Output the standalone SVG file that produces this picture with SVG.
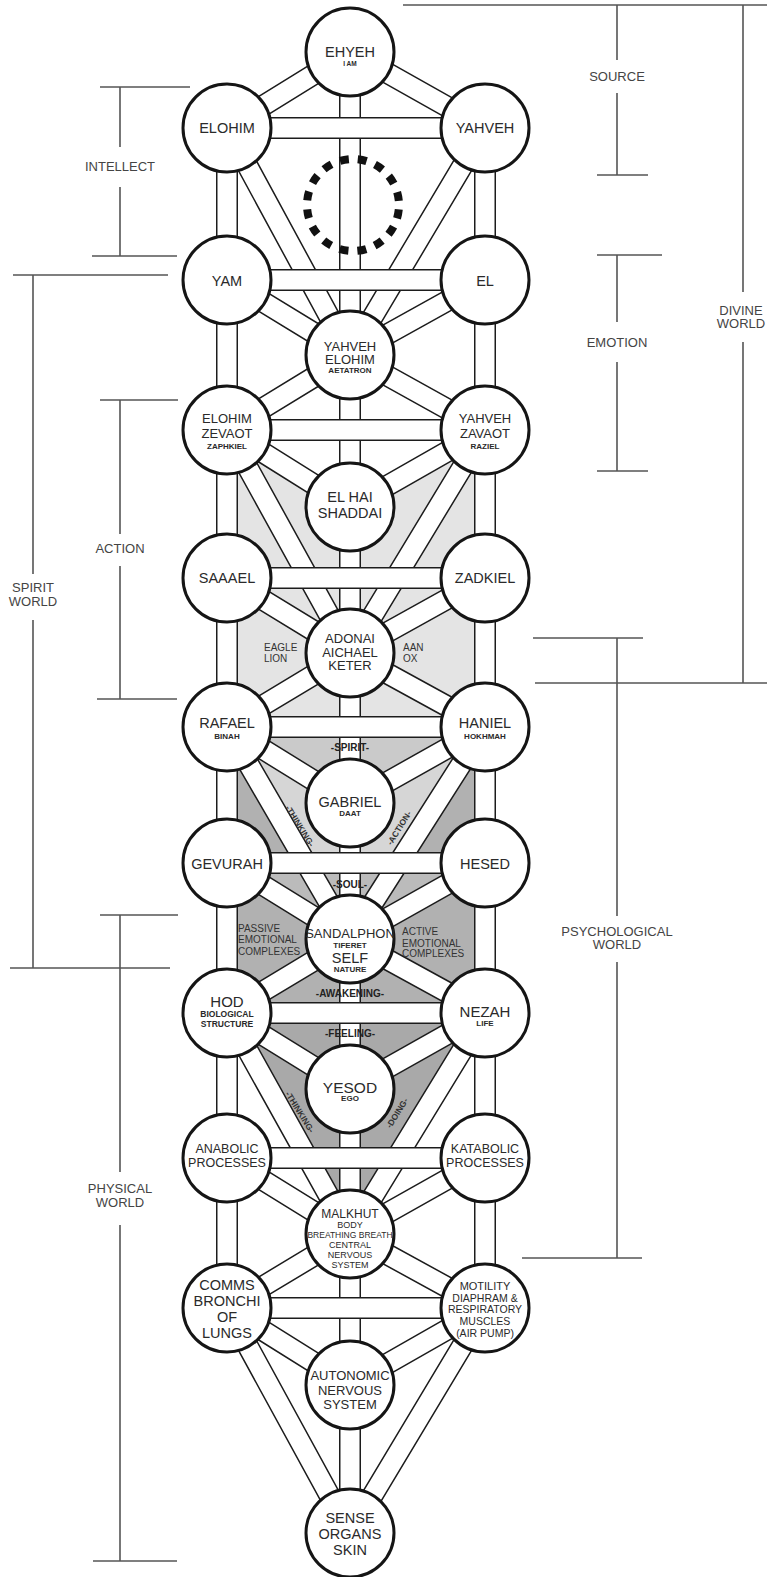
<svg xmlns="http://www.w3.org/2000/svg" width="767" height="1577" viewBox="0 0 767 1577">
<defs>
<style>
.chb{stroke:#1c1c1c;stroke-width:22;fill:none}
.chw{stroke:#fff;stroke-width:19;fill:none}
.node circle{fill:#fff;stroke:#151515;stroke-width:3}
text{font-family:"Liberation Sans",Arial,sans-serif;fill:#2a2a2a;text-anchor:middle}
.m{font-size:14.5px}
.m13{font-size:13px}
.m12{font-size:12.5px}
.s{font-size:8px;font-weight:bold}
.s9{font-size:8.5px;font-weight:bold}
.br{stroke:#555;stroke-width:1.6;fill:none}
.bl{font-size:13px;fill:#444}
.zl{font-size:10px;font-weight:bold;fill:#222}
.al{font-size:10px;text-anchor:start;fill:#333}
.rl{font-size:8.5px;font-weight:bold;fill:#333}
</style>
<path id="diag" d="M350 52L227 128M350 52L485 128M227 128L350 355M485 128L350 355M227 280L350 355M485 280L350 355M350 355L227 430M350 355L485 430M227 430L350 507M485 430L350 507M227 430L350 653M485 430L350 653M227 578L350 653M485 578L350 653M350 653L227 727M350 653L485 727M227 727L350 803M485 727L350 803M227 727L350 939M485 727L350 939M227 863L350 939M485 863L350 939M350 939L227 1013M350 939L485 1013M227 1013L350 1089M485 1013L350 1089M227 1013L350 1234M485 1013L350 1234M227 1158L350 1234M485 1158L350 1234M350 1234L227 1308M350 1234L485 1308M227 1308L350 1385M485 1308L350 1385M227 1308L350 1533M485 1308L350 1533"/>
<path id="vert" d="M350 52V1533M227 128V1308M485 128V1308"/>
<path id="bars" d="M227 128H485M227 280H485M227 430H485M227 578H485M227 727H485M227 863H485M227 1013H485M227 1158H485M227 1308H485"/>
</defs>
<rect width="767" height="1577" fill="#fff"/>
<g id="shading">
<polygon points="227,430 350,507 485,430 485,727 227,727" fill="#e4e4e4"/>
<polygon points="227,727 485,727 485,1013 227,1013" fill="#b1b1b1"/>
<polygon points="227,727 485,727 350,939" fill="#d6d6d6"/>
<polygon points="227,727 485,727 350,803" fill="#cacaca"/>
<polygon points="227,863 485,863 350,939" fill="#bbbbbb"/>
<polygon points="227,1013 485,1013 350,1234" fill="#a9a9a9"/>
</g>
<g id="connectors">
<use href="#diag" class="chb"/>
<use href="#diag" class="chw"/>
<use href="#vert" class="chb"/>
<use href="#vert" class="chw"/>
<use href="#bars" class="chb"/>
<use href="#bars" class="chw"/>
<circle cx="353" cy="205" r="46" fill="none" stroke="#111" stroke-width="8" stroke-dasharray="9 9.06" stroke-dashoffset="-4.53"/>
</g>
<g id="region-labels">
<text class="al" x="264" y="651">EAGLE</text>
<text class="al" x="264" y="662">LION</text>
<text class="al" x="403" y="651">AAN</text>
<text class="al" x="403" y="662">OX</text>
<text class="zl" x="350" y="751">-SPIRIT-</text>
<text class="rl" transform="translate(300,826) rotate(58)" y="3">-THINKING-</text>
<text class="rl" transform="translate(399,828) rotate(-58)" y="3">-ACTION-</text>
<text class="zl" x="350" y="888">-SOUL-</text>
<text class="al" x="238" y="932">PASSIVE</text>
<text class="al" x="238" y="943">EMOTIONAL</text>
<text class="al" x="238" y="955">COMPLEXES</text>
<text class="al" x="402" y="935">ACTIVE</text>
<text class="al" x="402" y="947">EMOTIONAL</text>
<text class="al" x="402" y="957">COMPLEXES</text>
<text class="zl" x="350" y="997">-AWAKENING-</text>
<text class="zl" x="350" y="1037">-FEELING-</text>
<text class="rl" transform="translate(300,1112) rotate(58)" y="3">-THINKING-</text>
<text class="rl" transform="translate(397,1113) rotate(-58)" y="3">-DOING-</text>
</g>
<g id="brackets">
<path class="br" d="M100 87H190M120 87V147M120 187V256M92 256H177"/>
<text class="bl" x="120" y="171">INTELLECT</text>
<path class="br" d="M13 275H168M33 275V574M33 620V968M10 968H170"/>
<text class="bl" x="33" y="592">SPIRIT</text>
<text class="bl" x="33" y="606">WORLD</text>
<path class="br" d="M100 400H178M120 400V534M120 566V699M97 699H177"/>
<text class="bl" x="120" y="553">ACTION</text>
<path class="br" d="M100 915H178M120 915V1172M120 1225V1561M93 1561H177"/>
<text class="bl" x="120" y="1193">PHYSICAL</text>
<text class="bl" x="120" y="1207">WORLD</text>
<path class="br" d="M403 5H767M617 5V60M617 93V175M597 175H648"/>
<text class="bl" x="617" y="81">SOURCE</text>
<path class="br" d="M597 255H662M617 255V322M617 362V471M597 471H648"/>
<text class="bl" x="617" y="347">EMOTION</text>
<path class="br" d="M743 5V292M743 342V683M535 683H767"/>
<text class="bl" x="741" y="315">DIVINE</text>
<text class="bl" x="741" y="328">WORLD</text>
<path class="br" d="M533 638H643M617 638V916M617 962V1258M522 1258H642"/>
<text class="bl" x="617" y="936">PSYCHOLOGICAL</text>
<text class="bl" x="617" y="949">WORLD</text>
</g>
<g id="n-ehyeh" class="node"><circle cx="350" cy="52" r="44"/><text class="m" x="350" y="57">EHYEH</text><text x="350" y="65.5" style="font-size:6.5px;font-weight:bold">I AM</text></g>
<g id="n-elohim" class="node"><circle cx="227" cy="128" r="44"/><text class="m" x="227" y="133">ELOHIM</text></g>
<g id="n-yahveh" class="node"><circle cx="485" cy="128" r="44"/><text class="m" x="485" y="133">YAHVEH</text></g>
<g id="n-yam" class="node"><circle cx="227" cy="280" r="44"/><text class="m" x="227" y="286">YAM</text></g>
<g id="n-el" class="node"><circle cx="485" cy="280" r="44"/><text class="m" x="485" y="286">EL</text></g>
<g id="n-yahveh-elohim" class="node"><circle cx="350" cy="355" r="44"/><text class="m13" x="350" y="351">YAHVEH</text><text class="m13" x="350" y="364">ELOHIM</text><text class="s" x="350" y="373">AETATRON</text></g>
<g id="n-elohim-zevaot" class="node"><circle cx="227" cy="430" r="44"/><text class="m13" x="227" y="423">ELOHIM</text><text class="m13" x="227" y="438">ZEVAOT</text><text class="s" x="227" y="449">ZAPHKIEL</text></g>
<g id="n-yahveh-zavaot" class="node"><circle cx="485" cy="430" r="44"/><text class="m13" x="485" y="423">YAHVEH</text><text class="m13" x="485" y="438">ZAVAOT</text><text class="s" x="485" y="449">RAZIEL</text></g>
<g id="n-el-hai" class="node"><circle cx="350" cy="507" r="44"/><text class="m" x="350" y="502">EL HAI</text><text class="m" x="350" y="518">SHADDAI</text></g>
<g id="n-saaael" class="node"><circle cx="227" cy="578" r="44"/><text class="m" x="227" y="583">SAAAEL</text></g>
<g id="n-zadkiel" class="node"><circle cx="485" cy="578" r="44"/><text class="m" x="485" y="583">ZADKIEL</text></g>
<g id="n-adonai" class="node"><circle cx="350" cy="653" r="44"/><text class="m13" x="350" y="643">ADONAI</text><text class="m13" x="350" y="657">AICHAEL</text><text class="m13" x="350" y="670">KETER</text></g>
<g id="n-rafael" class="node"><circle cx="227" cy="727" r="44"/><text class="m" x="227" y="728">RAFAEL</text><text class="s" x="227" y="739">BINAH</text></g>
<g id="n-haniel" class="node"><circle cx="485" cy="727" r="44"/><text class="m" x="485" y="728">HANIEL</text><text class="s" x="485" y="739">HOKHMAH</text></g>
<g id="n-gabriel" class="node"><circle cx="350" cy="803" r="44"/><text class="m" x="350" y="807">GABRIEL</text><text class="s" x="350" y="816">DAAT</text></g>
<g id="n-gevurah" class="node"><circle cx="227" cy="863" r="44"/><text class="m" x="227" y="869">GEVURAH</text></g>
<g id="n-hesed" class="node"><circle cx="485" cy="863" r="44"/><text class="m" x="485" y="869">HESED</text></g>
<g id="n-sandalphon" class="node"><circle cx="350" cy="939" r="44"/><text x="350" y="938" style="font-size:13px">SANDALPHON</text><text class="s" x="350" y="948">TIFERET</text><text class="m" x="350" y="963">SELF</text><text class="s" x="350" y="972">NATURE</text></g>
<g id="n-hod" class="node"><circle cx="227" cy="1013" r="44"/><text x="227" y="1007" style="font-size:15px">HOD</text><text class="s9" x="227" y="1017">BIOLOGICAL</text><text class="s9" x="227" y="1027">STRUCTURE</text></g>
<g id="n-nezah" class="node"><circle cx="485" cy="1013" r="44"/><text x="485" y="1017" style="font-size:15px">NEZAH</text><text class="s" x="485" y="1026">LIFE</text></g>
<g id="n-yesod" class="node"><circle cx="350" cy="1089" r="44"/><text x="350" y="1093" style="font-size:15.5px">YESOD</text><text class="s" x="350" y="1101">EGO</text></g>
<g id="n-anabolic" class="node"><circle cx="227" cy="1158" r="44"/><text class="m12" x="227" y="1153">ANABOLIC</text><text class="m12" x="227" y="1167">PROCESSES</text></g>
<g id="n-katabolic" class="node"><circle cx="485" cy="1158" r="44"/><text class="m12" x="485" y="1153">KATABOLIC</text><text class="m12" x="485" y="1167">PROCESSES</text></g>
<g id="n-malkhut" class="node"><circle cx="350" cy="1234" r="44"/><text x="350" y="1218" style="font-size:12px">MALKHUT</text><text x="350" y="1228" style="font-size:9px">BODY</text><text x="350" y="1238" style="font-size:8.5px">BREATHING BREATH</text><text x="350" y="1248" style="font-size:9px">CENTRAL</text><text x="350" y="1258" style="font-size:9px">NERVOUS</text><text x="350" y="1268" style="font-size:9px">SYSTEM</text></g>
<g id="n-comms" class="node"><circle cx="227" cy="1308" r="44"/><text class="m" x="227" y="1290">COMMS</text><text class="m" x="227" y="1306">BRONCHI</text><text class="m" x="227" y="1322">OF</text><text class="m" x="227" y="1338">LUNGS</text></g>
<g id="n-motility" class="node"><circle cx="485" cy="1308" r="44"/><text x="485" y="1290" style="font-size:11px">MOTILITY</text><text x="485" y="1302" style="font-size:10.5px">DIAPHRAM &amp;</text><text x="485" y="1313" style="font-size:10.5px">RESPIRATORY</text><text x="485" y="1325" style="font-size:10.5px">MUSCLES</text><text x="485" y="1337" style="font-size:10.5px">(AIR PUMP)</text></g>
<g id="n-autonomic" class="node"><circle cx="350" cy="1385" r="44"/><text class="m13" x="350" y="1380">AUTONOMIC</text><text class="m13" x="350" y="1395">NERVOUS</text><text class="m13" x="350" y="1409">SYSTEM</text></g>
<g id="n-sense" class="node"><circle cx="350" cy="1533" r="44"/><text class="m" x="350" y="1523">SENSE</text><text class="m" x="350" y="1539">ORGANS</text><text class="m" x="350" y="1555">SKIN</text></g>
</svg>
